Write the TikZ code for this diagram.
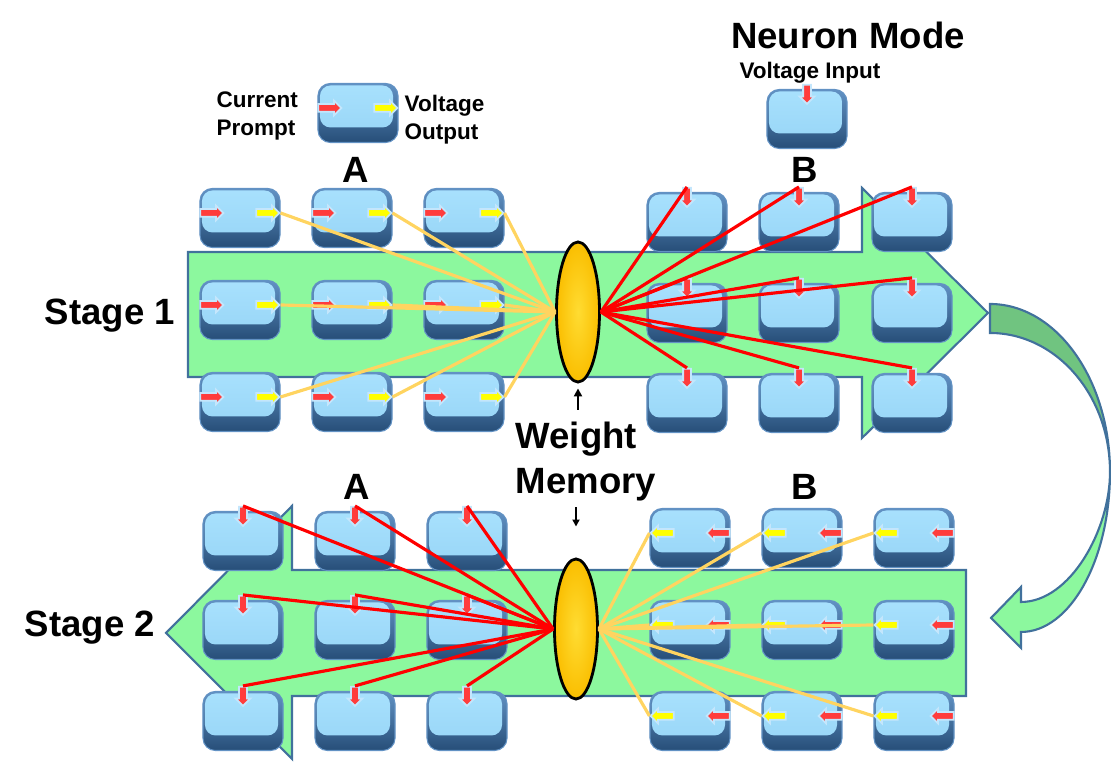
\documentclass[tikz,border=0pt]{standalone}
\usepackage{fontspec}
\setmainfont{Liberation Sans}
\usetikzlibrary{arrows.meta,positioning,shapes.geometric,shapes.arrows,calc}
\definecolor{nmgreen}{RGB}{140,248,158}
\definecolor{nmgreendark}{RGB}{112,196,128}
\definecolor{nmedge}{RGB}{65,113,156}
\definecolor{nmface}{RGB}{168,225,253}
\definecolor{nmface2}{RGB}{150,212,246}
\definecolor{nmbase}{RGB}{98,146,196}
\definecolor{nmbase2}{RGB}{38,78,120}
\definecolor{nmglow}{RGB}{196,230,252}
\definecolor{nmred}{RGB}{255,60,60}
\definecolor{nmyellow}{RGB}{255,255,0}
\definecolor{nmline}{RGB}{255,212,96}
\definecolor{nmgoldlight}{RGB}{255,220,50}
\definecolor{nmgolddark}{RGB}{250,190,0}

\begin{document}
\begin{tikzpicture}[x=0.01cm,y=-0.01cm,
  cell/.style={rounded corners=3.5pt,minimum width=0.8cm,minimum height=0.59cm,inner sep=0pt,
    top color=nmbase,bottom color=nmbase2,draw=nmbase,line width=0.3pt,
    path picture={\shade[top color=nmface,bottom color=nmface2,rounded corners=3pt]
      ([shift={(0.02cm,-0.02cm)}]path picture bounding box.north west) rectangle
      ([shift={(-0.05cm,0.15cm)}]path picture bounding box.south east);}},
  sig/.style={single arrow,single arrow head extend=0.035cm,inner xsep=0pt,inner ysep=0.03cm,
    minimum height=0.23cm,draw=nmglow,line width=0.5pt},
  sigR/.style={sig,fill=nmred},
  sigY/.style={sig,fill=nmyellow},
  sigD/.style={sigR,inner xsep=0.03cm,inner ysep=0pt,minimum height=0.19cm,shape border rotate=270},
  mem/.style={ellipse,draw=black,line width=0.8pt,inner color=nmgoldlight,outer color=nmgolddark,
    minimum width=0.43cm,minimum height=1.4cm,inner sep=0pt},
  flow/.style={fill=nmgreen,draw=nmedge,line width=0.6pt},
  feed/.style={draw=nmline,line width=0.9pt},
  fire/.style={draw=red,line width=0.9pt},
  big/.style={font=\fontsize{10.4}{12.8}\selectfont\bfseries,inner sep=0pt},
  small/.style={font=\fontsize{6.4}{7.9}\selectfont\bfseries,inner sep=0pt}]
  \useasboundingbox (0,0) rectangle (1111,762);

  % stage bands
  \draw[flow] (188,252) -- (862,252) -- (862,188) -- (988,313) -- (862,438) -- (862,377) -- (188,377) -- cycle;
  \draw[flow] (966,570) -- (292,570) -- (292,506) -- (166,633) -- (292,759) -- (292,696) -- (966,696) -- cycle;
  % turn-around arrow
  \draw[flow,fill=nmgreendark] (990,304) .. controls (1056,304) and (1110,379) .. (1110,472)
    .. controls (1110,395) and (1056,333) .. (990,333) -- cycle;
  \draw[flow] (1110,472) .. controls (1110,560) and (1070,632) .. (1021,632) -- (1021,648) -- (991,618)
    -- (1021,587) -- (1021,602) .. controls (1070,602) and (1110,530) .. (1110,472) -- cycle;

  % legend cells
  \node[cell] (leg) at (358,113) {};
  \node[sigR,anchor=tail] (leg-in) at ([yshift=0.05cm]leg.west) {};
  \node[sigY,anchor=tip] (leg-out) at ([yshift=0.05cm]leg.east) {};
  \node[cell] (nm) at (807,119) {};
  \node[sigD,anchor=tail] (nm-in) at ([yshift=0.05cm]nm.north) {};

  % stage 1
  \foreach \r/\y in {1/218,2/310,3/402}{
    \foreach \c/\x in {1/240,2/352,3/464}{
      \node[cell] (s1a\r\c) at (\x,\y) {};
      \node[sigR,anchor=tail] (s1a\r\c-in) at ([yshift=0.05cm]s1a\r\c.west) {};
      \node[sigY,anchor=tip] (s1a\r\c-out) at ([yshift=0.05cm]s1a\r\c.east) {};
    }
  }
  \foreach \r/\y in {1/222,2/313,3/403}{
    \foreach \c/\x in {1/687,2/799,3/912}{
      \node[cell] (s1b\r\c) at (\x,\y) {};
      \node[sigD,anchor=tail] (s1b\r\c-in) at ([yshift=0.05cm]s1b\r\c.north) {};
    }
  }
  % stage 2
  \foreach \r/\y in {1/541,2/630,3/721}{
    \foreach \c/\x in {1/243,2/355,3/467}{
      \node[cell] (s2a\r\c) at (\x,\y) {};
      \node[sigD,anchor=tail] (s2a\r\c-in) at ([yshift=0.05cm]s2a\r\c.north) {};
    }
  }
  \foreach \r/\y in {1/538,2/630,3/721}{
    \foreach \c/\x in {1/690,2/802,3/914}{
      \node[cell] (s2b\r\c) at (\x,\y) {};
      \node[sigY,shape border rotate=180,anchor=tip] (s2b\r\c-out) at ([yshift=0.05cm]s2b\r\c.west) {};
      \node[sigR,shape border rotate=180,anchor=tail] (s2b\r\c-in) at ([yshift=0.05cm]s2b\r\c.east) {};
    }
  }

  % weight memory
  \node[mem] (mem1) at (578,312) {};
  \node[mem] (mem2) at (576,629) {};
  \foreach \r in {1,2,3}{
    \foreach \c in {1,2,3}{
      \draw[feed] (s1a\r\c-out.tip) -- (mem1.west);
      \draw[fire] (mem1.east) -- (s1b\r\c-in.tail);
      \draw[fire] (mem2.west) -- (s2a\r\c-in.tail);
      \draw[feed] (mem2.east) -- (s2b\r\c-out.tip);
    }
  }

  % labels
  \node[big,anchor=base] (title) at (848,49) {Neuron Mode};
  \node[small,anchor=base] (vin) at (810,79) {Voltage Input};
  \node[small,align=left,anchor=north west] (cp) at (216,91) {Current\\Prompt};
  \node[small,align=left,anchor=north west] (vo) at (404,95) {Voltage\\Output};
  \node[big,anchor=base] (a1) at (356,183) {A};
  \node[big,anchor=base] (b1) at (805,183) {B};
  \node[big,anchor=base] (a2) at (357,500) {A};
  \node[big,anchor=base] (b2) at (805,500) {B};
  \node[big,anchor=base] (st1) at (110,325) {Stage 1};
  \node[big,anchor=base] (st2) at (90,637) {Stage 2};
  \node[big,align=left,anchor=north west] (wm) at (515,421) {Weight\\Memory};
  \draw[-{Triangle[length=0.08cm,width=0.08cm]},line width=0.8pt,shorten <=0.11cm,shorten >=0.05cm]
    (mem1.south |- wm.north) -- (mem1.south);
  \draw[-{Triangle[length=0.07cm,width=0.07cm]},line width=0.6pt,shorten <=0.06cm,shorten >=0.31cm]
    (mem2.north |- wm.south) -- (mem2.north);
\end{tikzpicture}
\end{document}
